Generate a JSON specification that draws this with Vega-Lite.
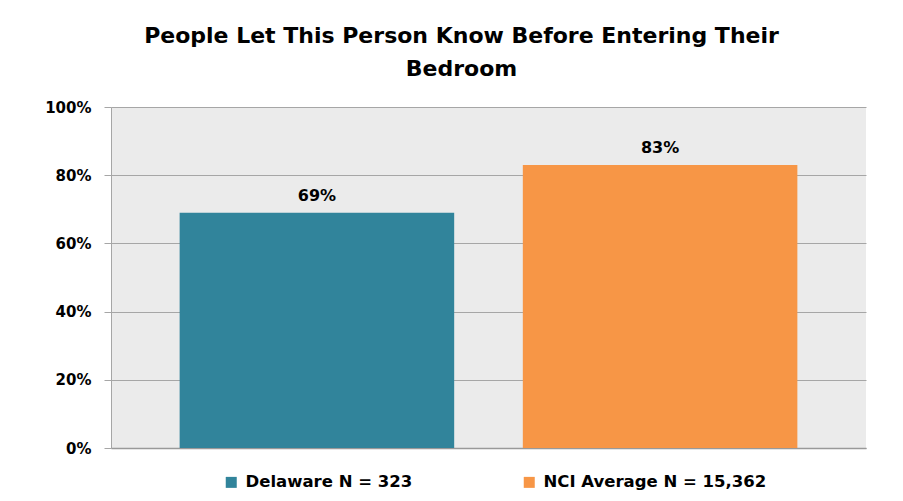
{
  "$schema": "https://vega.github.io/schema/vega-lite/v6.json",
  "width": 755,
  "height": 341,
  "autosize": "none",
  "padding": {"left": 111, "top": 107, "right": 37, "bottom": 53},
  "background": "white",
  "title": {
    "text": ["People Let This Person Know Before Entering Their", "Bedroom"],
    "font": "DejaVu Sans",
    "fontSize": 22,
    "fontWeight": "bold",
    "lineHeight": 33,
    "color": "#000000",
    "anchor": "middle",
    "dx": -27,
    "offset": 19
  },
  "data": {
    "values": [
      {"group": "Delaware N = 323", "value": 0.69},
      {"group": "NCI Average N = 15,362", "value": 0.83}
    ]
  },
  "encoding": {
    "x": {
      "field": "group",
      "type": "nominal",
      "sort": null,
      "scale": {"paddingInner": 0.2, "paddingOuter": 0.2},
      "axis": {"labels": false, "ticks": false, "title": null, "domainColor": "#999999", "domainWidth": 1.5}
    },
    "y": {
      "field": "value",
      "type": "quantitative",
      "scale": {"domain": [0, 1]},
      "axis": {
        "values": [0, 0.2, 0.4, 0.6, 0.8, 1],
        "format": ".0%",
        "title": null,
        "labelFont": "DejaVu Sans",
        "labelFontSize": 15,
        "labelFontWeight": "bold",
        "labelColor": "#000000",
        "labelPadding": 13,
        "tickSize": 7,
        "tickColor": "#a6a6a6",
        "domainColor": "#a6a6a6",
        "gridColor": "#a6a6a6",
        "grid": true
      }
    }
  },
  "layer": [
    {
      "mark": {"type": "bar"},
      "encoding": {
        "color": {
          "field": "group",
          "type": "nominal",
          "sort": null,
          "scale": {"range": ["#31849b", "#f79646"]},
          "legend": {
            "title": null,
            "orient": "none",
            "legendX": 112,
            "legendY": 367,
            "direction": "horizontal",
            "symbolType": "square",
            "symbolSize": 121,
            "symbolStrokeWidth": 0,
            "labelFont": "DejaVu Sans",
            "labelFontSize": 16.5,
            "labelFontWeight": "bold",
            "labelColor": "#000000",
            "labelOffset": 6,
            "columnPadding": 108,
            "labelLimit": 400
          }
        }
      }
    },
    {
      "mark": {"type": "text", "dy": -17, "font": "DejaVu Sans", "fontSize": 16, "fontWeight": "bold", "color": "#000000"},
      "encoding": {
        "text": {"field": "value", "type": "quantitative", "format": ".0%"}
      }
    }
  ],
  "config": {
    "view": {"fill": "#ebebeb", "stroke": null}
  }
}
